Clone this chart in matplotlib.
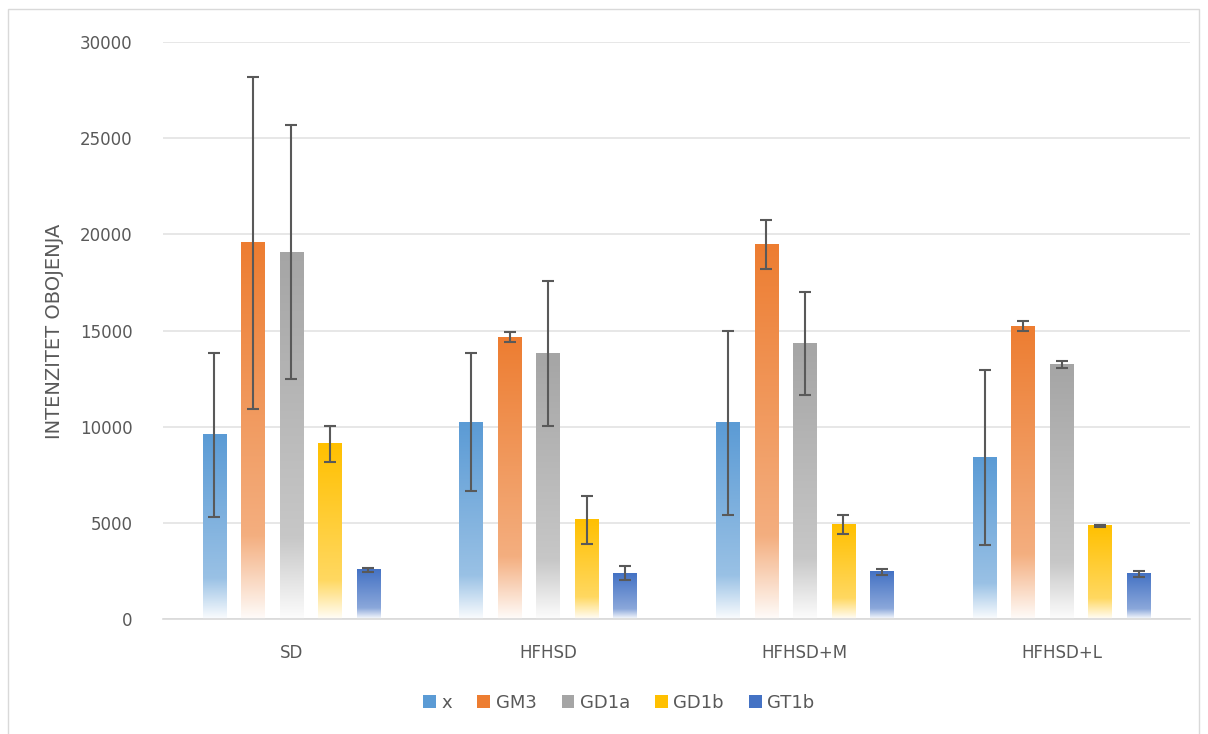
import numpy as np
import matplotlib
matplotlib.use("Agg")
import matplotlib.pyplot as plt
from matplotlib.colors import to_rgb
from matplotlib.patches import Patch, Rectangle

groups = ["SD", "HFHSD", "HFHSD+M", "HFHSD+L"]
series = ["x", "GM3", "GD1a", "GD1b", "GT1b"]
colors = ["#5B9BD5", "#ED7D31", "#A5A5A5", "#FFC000", "#4472C4"]

# mean values per series, one entry per group
x_vals = [9570, 10240, 10200, 8390]
gm3_vals = [19550, 14660, 19480, 15210]
gd1a_vals = [19080, 13780, 14320, 13230]
gd1b_vals = [9100, 5150, 4900, 4840]
gt1b_vals = [2550, 2390, 2450, 2340]

# error (+/-) per series
x_err = [4270, 3590, 4790, 4560]
gm3_err = [8650, 260, 1270, 260]
gd1a_err = [6580, 3770, 2690, 180]
gd1b_err = [940, 1250, 490, 70]
gt1b_err = [100, 360, 160, 170]

values = [x_vals, gm3_vals, gd1a_vals, gd1b_vals, gt1b_vals]
errors = [x_err, gm3_err, gd1a_err, gd1b_err, gt1b_err]


def gradient(color, n=200):
    # top = full colour, slow lightening down to ~77%, then quick fade to white
    base = np.array(to_rgb(color))
    t = np.linspace(0, 1, n)
    mix = np.interp(t, [0, 0.78, 1.0], [0.0, 0.38, 0.97])
    rgb = base[None, :] * (1 - mix[:, None]) + mix[:, None]
    return rgb[:, None, :]


fig = plt.figure(figsize=(12.08, 7.34), dpi=100)
ax = fig.add_axes([163 / 1208, 1 - 619 / 734, 1027 / 1208, 577 / 734])

pos = np.arange(len(groups))
step = 0.15
width = 0.092

for i, (name, col) in enumerate(zip(series, colors)):
    xs = pos + (i - 2) * step
    img = gradient(col)
    for xc, v in zip(xs, values[i]):
        ax.imshow(img, extent=(xc - width / 2, xc + width / 2, 0, v),
                  aspect="auto", origin="upper", zorder=2, interpolation="bilinear")
    ax.errorbar(xs, values[i], yerr=errors[i], fmt="none", ecolor="#595959",
                elinewidth=1.5, capsize=4.5, capthick=1.5, zorder=3)

ax.set_xlim(-0.5, 3.5)
ax.set_ylim(0, 30000)
ax.set_yticks(range(0, 30001, 5000))
ax.set_xticks(pos)
ax.set_xticklabels(groups)
ax.yaxis.grid(True, color="#E0E0E0", linewidth=1.1, zorder=0)
ax.set_axisbelow(True)
for s in ["top", "right", "left"]:
    ax.spines[s].set_visible(False)
ax.spines["bottom"].set_color("#D9D9D9")
ax.spines["bottom"].set_linewidth(1.2)
ax.tick_params(axis="both", length=0, colors="#595959", labelsize=12)
ax.tick_params(axis="y", pad=22)
ax.tick_params(axis="x", pad=18)

fig.text(55 / 1208, 1 - 331 / 734, "INTENZITET OBOJENJA", rotation=90,
         ha="center", va="center", color="#595959", fontsize=14,
         family=["Liberation Sans Narrow", "DejaVu Sans"])

handles = [Patch(facecolor=c, edgecolor="none") for c in colors]
fig.legend(handles, series, loc="center", bbox_to_anchor=(619 / 1208, 1 - 703 / 734),
           ncol=5, frameon=False, fontsize=13, labelcolor="#595959",
           handlelength=0.7, handleheight=0.7, handletextpad=0.3, columnspacing=1.4)

fig.patches.append(Rectangle((8 / 1208, -0.01), 1191 / 1208, 1 - 9 / 734 + 0.01,
                             transform=fig.transFigure, fill=False,
                             edgecolor="#D9D9D9", linewidth=1))

fig.savefig("out.png", dpi=100)
